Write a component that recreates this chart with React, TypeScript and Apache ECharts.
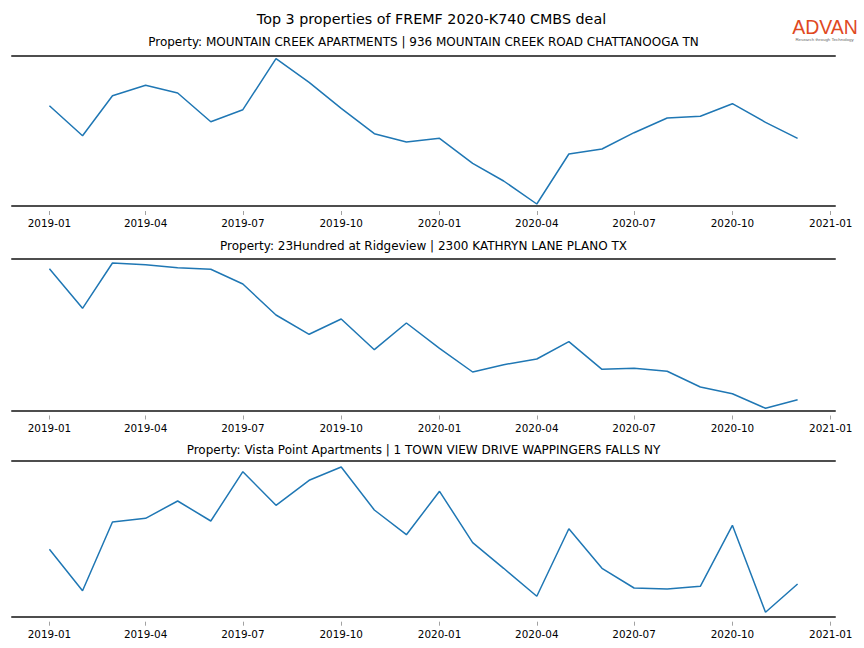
import React, { useEffect, useRef } from "react";
import * as echarts from "echarts";

const months: string[] = [
  "2019-01", "2019-02", "2019-03", "2019-04", "2019-05", "2019-06",
  "2019-07", "2019-08", "2019-09", "2019-10", "2019-11", "2019-12",
  "2020-01", "2020-02", "2020-03", "2020-04", "2020-05", "2020-06",
  "2020-07", "2020-08", "2020-09", "2020-10", "2020-11", "2020-12",
];

const tickLabels: string[] = [
  "2019-01", "2019-04", "2019-07", "2019-10", "2020-01",
  "2020-04", "2020-07", "2020-10", "2021-01",
];

const mainTitle = "Top 3 properties of FREMF 2020-K740 CMBS deal";

const titles: string[] = [
  "Property: MOUNTAIN CREEK APARTMENTS | 936 MOUNTAIN CREEK ROAD CHATTANOOGA TN",
  "Property: 23Hundred at Ridgeview | 2300 KATHRYN LANE PLANO TX",
  "Property: Vista Point Apartments | 1 TOWN VIEW DRIVE WAPPINGERS FALLS NY",
];

const mountainCreek: number[] = [
  100.3, 70.3, 110.3, 120.7, 113, 84.3, 96.3, 147.3, 123.7, 97.7, 72.3, 64,
  67.7, 42.7, 25, 2, 52, 57, 73.3, 88, 89.7, 102.3, 83.7, 67.7,
];

const ridgeview: number[] = [
  141.8, 102.2, 147.5, 145.8, 142.8, 141.2, 126.5, 95.5, 76.2, 91.5, 60.8, 87.5,
  62.2, 38.5, 45.8, 51.5, 68.8, 41.2, 42.2, 39.2, 23.5, 16.8, 2.2, 10.8,
];

const vistaPoint: number[] = [
  67.4, 26, 94.7, 98.4, 115.7, 95.7, 145, 111.4, 136.4, 149.7, 106.7, 82,
  125.4, 74, 48.4, 20.4, 88, 48.4, 28.7, 27.7, 30.4, 91.4, 4.4, 32.7,
];

const seriesList: number[][] = [mountainCreek, ridgeview, vistaPoint];
const yMax: number[] = [150, 151.5, 155.7];

const toTs = (m: string) => {
  const [y, mo] = m.split("-").map(Number);
  return Date.UTC(y, mo - 1, 1);
};

const fmt = (v: number) => {
  const d = new Date(v);
  const mm = String(d.getUTCMonth() + 1).padStart(2, "0");
  return `${d.getUTCFullYear()}-${mm}`;
};

export default function App() {
  const ref = useRef<HTMLDivElement>(null);

  useEffect(() => {
    if (!ref.current) return;
    const chart = echarts.init(ref.current, undefined, { renderer: "svg" });
    const first = toTs(months[0]);
    const last = toTs(months[months.length - 1]);
    const pad = (last - first) * 0.05;
    const xMin = first - pad;
    const xMax = last + pad;
    const tickTs = tickLabels.map(toTs);

    const gridTops = [56, 259, 461];
    const grids = gridTops.map((top, i) => ({
      left: 12,
      right: 29,
      top,
      height: yMax[i],
    }));

    const spine = { show: true, lineStyle: { color: "#4d4d4d", width: 2 } };
    const xAxes: any[] = [];
    grids.forEach((_, i) => {
      xAxes.push({
        type: "value", gridIndex: i, position: "bottom", min: xMin, max: xMax,
        axisLine: spine, axisTick: { show: false }, axisLabel: { show: false },
        splitLine: { show: false },
      });
      xAxes.push({
        type: "value", gridIndex: i, position: "top", min: xMin, max: xMax,
        axisLine: spine, axisTick: { show: false }, axisLabel: { show: false },
        splitLine: { show: false },
      });
      xAxes.push({
        type: "value", gridIndex: i, position: "bottom", offset: 5, min: xMin, max: xMax,
        axisLine: { show: false },
        axisTick: {
          show: true, length: 4, customValues: tickTs,
          lineStyle: { color: "#8a8a8a", width: 0.8 },
        },
        axisLabel: {
          show: true, customValues: tickTs, margin: 7,
          formatter: (v: number) => fmt(v),
          fontFamily: "DejaVu Sans", fontSize: 10.4, color: "#000",
          showMinLabel: true, showMaxLabel: true, hideOverlap: false,
        },
        splitLine: { show: false },
      });
    });

    const yAxes = grids.map((_, i) => ({
      type: "value", gridIndex: i, min: 0, max: yMax[i], show: false,
    }));

    const series = seriesList.map((vals, i) => ({
      type: "line",
      xAxisIndex: i * 3,
      yAxisIndex: i,
      showSymbol: false,
      symbol: "none",
      lineStyle: { color: "#1f77b4", width: 1.5 },
      data: vals.map((v, j) => [toTs(months[j]), v]),
    }));

    const titleCenters = [42, 246, 450];
    const graphic: any[] = [
      {
        type: "text", x: 431.5, y: 19,
        style: {
          text: mainTitle, textAlign: "center", textVerticalAlign: "middle",
          fontFamily: "DejaVu Sans", fontSize: 14.3, fill: "#000",
        },
      },
      ...titles.map((t, i) => ({
        type: "text", x: 423.5, y: titleCenters[i],
        style: {
          text: t, textAlign: "center", textVerticalAlign: "middle",
          fontFamily: "DejaVu Sans", fontSize: 12, fill: "#000",
        },
      })),
      {
        type: "text", x: 825, y: 27,
        style: {
          text: "ADVAN", textAlign: "center", textVerticalAlign: "middle",
          fontFamily: "Liberation Sans", fontSize: 19.5, fill: "#e0491f",
        },
      },
      {
        type: "text", x: 824.5, y: 39,
        style: {
          text: "Research through Technology", textAlign: "center",
          textVerticalAlign: "middle", fontFamily: "Liberation Sans",
          fontSize: 4.4, fill: "#666",
        },
      },
    ];

    chart.setOption({
      animation: false,
      backgroundColor: "#ffffff",
      grid: grids,
      xAxis: xAxes,
      yAxis: yAxes,
      series,
      graphic,
    });
    return () => chart.dispose();
  }, []);

  return (
    <div
      ref={ref}
      style={{ position: "fixed", left: 0, top: 0, width: 864, height: 648 }}
    />
  );
}
